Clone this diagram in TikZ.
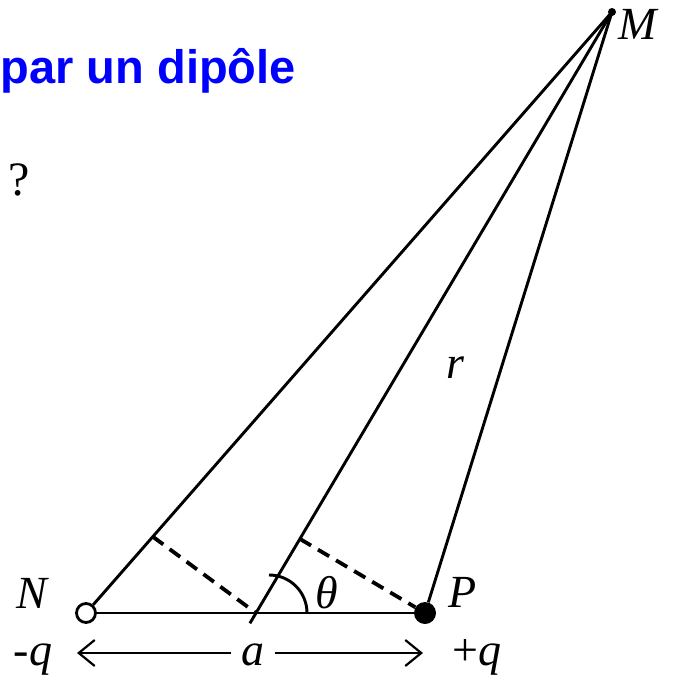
\documentclass[tikz,border=0pt]{standalone}
\usepackage{fontspec}
\setmainfont{Liberation Serif}
\newfontfamily\titlefont{Liberation Sans}
\usetikzlibrary{arrows.meta,calc,positioning}

\tikzset{
  lbl/.style={font=\fontsize{46}{50}\selectfont\itshape, inner sep=0pt, anchor=base},
  negcharge/.style={circle, draw, line width=2.8pt, fill=white, minimum size=19pt, inner sep=0pt},
  poscharge/.style={circle, fill, minimum size=22pt, inner sep=0pt},
  ray/.style={line width=2.9pt},
  perp/.style={line width=3.8pt, dash pattern=on 13pt off 8pt},
  dimline/.style={line width=2.2pt, -{Straight Barb[length=16pt,width=26pt]}},
}

\begin{document}
\begin{tikzpicture}[x=1pt, y=-1pt]
    \useasboundingbox (0,0) rectangle (674,677);
    \clip (0,0) rectangle (674,677);
    % title, cut off on the left
    \node[font=\titlefont\bfseries\fontsize{47}{50}\selectfont, text=blue,
          anchor=base east, inner sep=0pt] (title) at (296,83) {par un dipôle};
    \node[font=\fontsize{48}{50}\selectfont, anchor=base, inner sep=0pt] (ask) at (19,195) {?};

    % charges and field point
    \node[negcharge] (N) at (86,613) {};
    \node[poscharge] (P) at (425,613) {};
    \coordinate (O) at (256,613);
    \node[circle, fill, minimum size=8pt, inner sep=0pt] (M) at (612,12) {};

    % rays to M
    \draw[ray] (N) -- (M.center);
    \draw[ray] (P) -- (M.center);
    \draw[ray] ($(O)!-12pt!(M)$) -- (M.center);
    \draw[ray] (N) -- (P);

    % projections
    \coordinate (footN) at ($(N)!0.127!(M)$);
    \coordinate (footP) at ($(O)!(P)!(M)$);
    \draw[perp] (footN) -- (O);
    \draw[perp] (footP) -- (P);

    % angle (y axis points down here)
    \draw[ray] ($(O)+(51,0)$) arc[start angle=0, end angle=-90, radius=38];

    % labels
    \node[lbl] (Nlbl) at (32,608) {N};
    \node[lbl] (Plbl) at (463,607) {P};
    \node[lbl] (Mlbl) at (638,40) {M};
    \node[lbl] (rlbl) at (455,378) {r};
    \node[lbl] (th) at (327,608) {θ};
    \node[lbl] (qneg) at (33,665) {\upshape-\itshape q};
    \node[lbl] (qpos) at (477,665) {\upshape+\itshape q};

    % separation a
    \coordinate (tipL) at (77,653);
    \coordinate (tipR) at (423,653);
    \node[lbl, inner xsep=10pt] (a) at (253,665) {a};
    \draw[dimline] (a.west |- tipL) -- (tipL);
    \draw[dimline] (a.east |- tipR) -- (tipR);
\end{tikzpicture}
\end{document}
